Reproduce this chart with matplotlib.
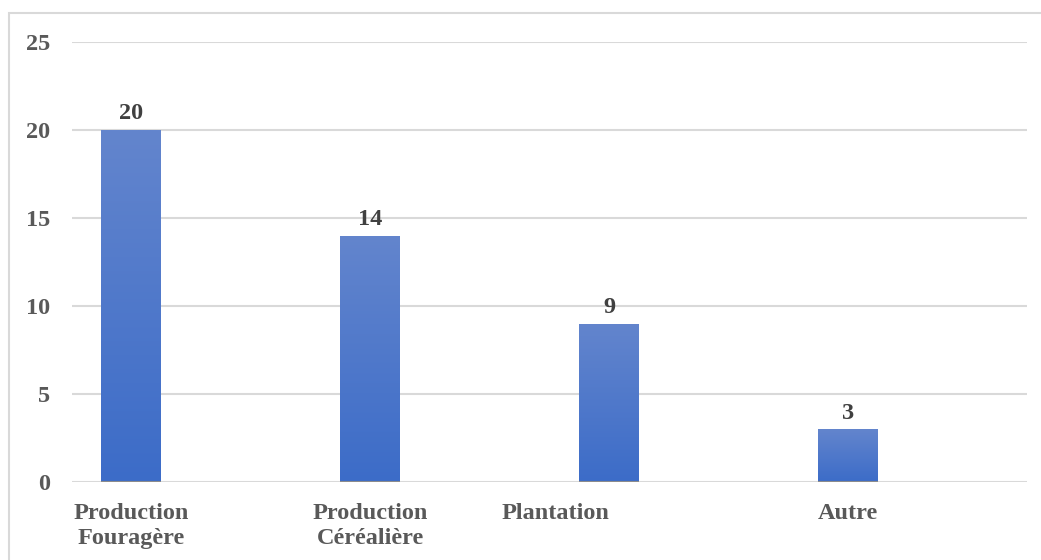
import numpy as np
import matplotlib.pyplot as plt
from matplotlib.patches import Rectangle
from matplotlib.colors import LinearSegmentedColormap
import matplotlib.transforms as mtransforms

categories = ["Production\nFouragère", "Production\nCéréalière", "Plantation", "Autre"]
values = [20, 14, 9, 3]
yticks = [0, 5, 10, 15, 20, 25]

plt.rcParams['font.family'] = ['Liberation Serif', 'DejaVu Serif']
plt.rcParams['font.weight'] = 'bold'

fig = plt.figure(figsize=(10.41, 5.6), dpi=100)
ax = fig.add_axes([72 / 1041, 1 - 482 / 560, 955 / 1041, 440 / 560])

# outer chart frame
fig.patches.append(Rectangle((9 / 1041, -0.05), 1.2, 1 - 13 / 560 + 0.05,
                             transform=fig.transFigure, fill=False,
                             edgecolor='#d9d9d9', linewidth=1.5))

x = np.arange(len(categories))
bars = ax.bar(x, values, width=0.25, color='none', edgecolor='none', zorder=3)

grad = LinearSegmentedColormap.from_list('g', ['#3c6cc8', '#6385cd'])
gimg = np.linspace(0, 1, 256).reshape(-1, 1)
for b in bars:
    x0, y0 = b.get_x(), b.get_y()
    w, h = b.get_width(), b.get_height()
    im = ax.imshow(gimg, cmap=grad, origin='lower', aspect='auto',
                   extent=[x0, x0 + w, y0, y0 + h], zorder=3)
    im.set_clip_path(b)
    ax.plot([x0, x0 + w], [0, 0], color='#8c8c8c', lw=1.5, zorder=4,
            solid_capstyle='butt')

for xi, v in zip(x, values):
    ax.annotate(str(v), (xi, v), xytext=(0, 4), textcoords='offset points',
                ha='center', va='bottom', fontsize=17.5, fontweight='bold',
                color='#404040')

ax.set_xlim(-0.247, 3.749)
ax.set_ylim(0, 25)
ax.set_yticks(yticks)
ax.set_xticks(x)
ax.set_xticklabels(categories, fontsize=17.5, fontweight='bold', color='#595959',
                   linespacing=1.25)
ax.tick_params(axis='y', labelsize=17.5, labelcolor='#595959', length=0, pad=16)
ax.tick_params(axis='x', length=0, pad=15)

# the third category label sits left of its bar
lbl = ax.get_xticklabels()[2]
lbl.set_transform(lbl.get_transform() +
                  mtransforms.ScaledTranslation(-54 / 100, 0, fig.dpi_scale_trans))

ax.grid(axis='y', color='#d9d9d9', linewidth=1.5, zorder=0)
for s in ax.spines.values():
    s.set_visible(False)

fig.savefig('out.png', dpi=100)
